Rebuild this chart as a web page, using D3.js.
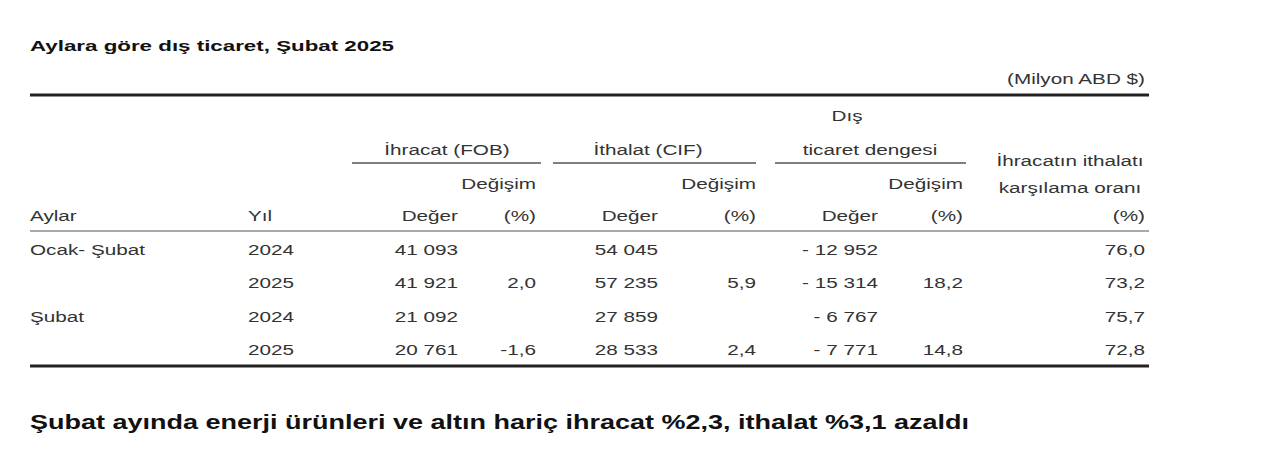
<!DOCTYPE html><html><head><meta charset="utf-8">
<script src="https://cdn.jsdelivr.net/npm/d3@7"></script>
<style>body{margin:0;background:#fff}text{font-family:"Liberation Sans",Arial,sans-serif}</style></head><body>
<svg id="c" width="1280" height="464"></svg>
<script>
const months=["Ocak- Şubat","","Şubat",""];
const years=["2024","2025","2024","2025"];
const exportVal=["41 093","41 921","21 092","20 761"];
const exportChg=["","2,0","","-1,6"];
const importVal=["54 045","57 235","27 859","28 533"];
const importChg=["","5,9","","2,4"];
const balanceVal=["- 12 952","- 15 314","- 6 767","- 7 771"];
const balanceChg=["","18,2","","14,8"];
const coverage=["76,0","73,2","75,7","72,8"];
const svg=d3.select("#c");
const col="#333";
const y=d3.scaleBand().domain(d3.range(4)).range([233,367]);
function t(x,yy,s,o={}){svg.append("text").attr("transform",`translate(${x},${yy}) scale(${o.sx||1.38},1)`).text(s).attr("fill",o.fill||col)
 .attr("font-size",o.size||15).attr("font-weight",o.bold?"bold":"normal").attr("text-anchor",o.anchor||"start");}
function ln(x1,x2,yy,w,c){svg.append("line").attr("x1",x1).attr("x2",x2).attr("y1",yy).attr("y2",yy).attr("stroke",c||"#222").attr("stroke-width",w);}
t(30,51,"Aylara göre dış ticaret, Şubat 2025",{bold:true,size:15,fill:"#111",sx:1.49});
t(1145,84,"(Milyon ABD $)",{anchor:"end"});
ln(30,1149,95,3);
t(847,121,"Dış",{anchor:"middle"});
t(447,155,"İhracat (FOB)",{anchor:"middle"});
t(648,155,"İthalat (CIF)",{anchor:"middle"});
t(870,155,"ticaret dengesi",{anchor:"middle"});
ln(352,541,163,1.3,"#555");ln(553,756,163,1.3,"#555");ln(775,966,163,1.3,"#555");
t(1070,166,"İhracatın ithalatı",{anchor:"middle"});
t(1070,193,"karşılama oranı",{anchor:"middle"});
[536,756,963].forEach(x=>t(x,189,"Değişim",{anchor:"end"}));
t(30,221,"Aylar");t(248,221,"Yıl");
[[458,"Değer"],[536,"(%)"],[658,"Değer"],[756,"(%)"],[878,"Değer"],[963,"(%)"],[1145,"(%)"]].forEach(([x,s])=>t(x,221,s,{anchor:"end"}));
ln(30,1149,231,1.2,"#555");
const cols=[[458,exportVal],[536,exportChg],[658,importVal],[756,importChg],[878,balanceVal],[963,balanceChg],[1145,coverage]];
d3.range(4).forEach(i=>{const yy=y(i)+y.bandwidth()/2+5;
 t(30,yy,months[i]);t(248,yy,years[i]);
 cols.forEach(([x,a])=>t(x,yy,a[i],{anchor:"end"}));});
ln(30,1149,366,3);
t(30,429,"Şubat ayında enerji ürünleri ve altın hariç ihracat %2,3, ithalat %3,1 azaldı",{bold:true,size:20,fill:"#111",sx:1.35});
</script></body></html>
